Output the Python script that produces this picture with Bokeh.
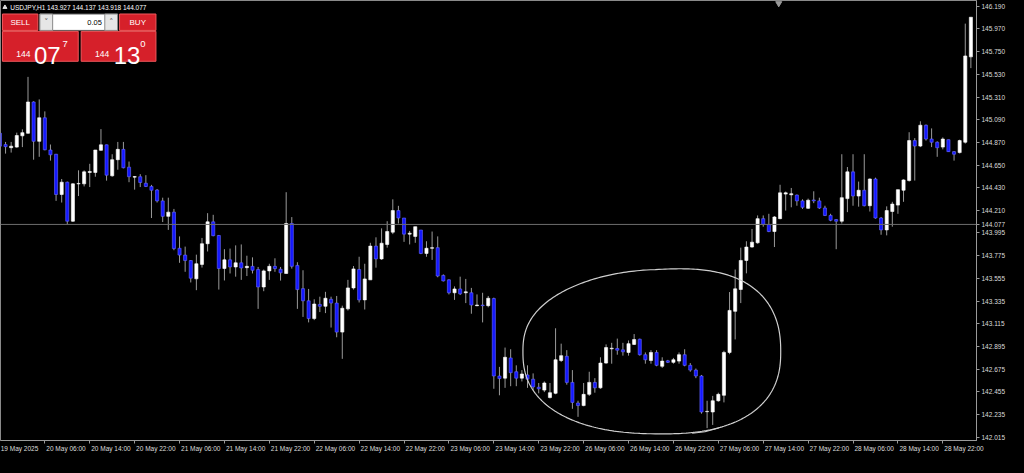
import numpy as np
from bokeh.plotting import figure
from bokeh.models import (Range1d, FixedTicker, LinearAxis, Span,
                          PrintfTickFormatter, GlobalInlineStyleSheet)
from bokeh.core.properties import value
from bokeh.embed import file_html
from bokeh.resources import INLINE

# ---------------- data ----------------
symbol = "USDJPY,H1"
header_ohlc = ["143.927", "144.137", "143.918", "144.077"]
bid_price = 144.077
lot_size = "0.05"
sell_quote = ["144", "07", "7"]
buy_quote = ["144", "13", "0"]

opens = [144.960, 144.850, 144.820, 144.826, 144.935, 144.960, 145.263, 144.882, 145.110, 144.798,
         144.757, 144.367, 144.486, 144.108, 144.470, 144.470, 144.580, 144.580, 144.795, 144.848,
         144.548, 144.704, 144.804, 144.632, 144.535, 144.539, 144.476, 144.445, 144.410, 144.305,
         144.155, 144.196, 143.846, 143.780, 143.727, 143.550, 143.690, 143.890, 144.102, 143.970,
         143.650, 143.734, 143.665, 143.705, 143.658, 143.671, 143.640, 143.471, 143.627, 143.671,
         143.643, 143.602, 144.086, 143.680, 143.455, 143.337, 143.165, 143.302, 143.284, 143.352,
         143.315, 143.034, 143.259, 143.462, 143.640, 143.346, 143.540, 143.867, 143.743, 143.883,
         144.002, 144.211, 144.139, 143.983, 143.961, 144.023, 143.796, 143.846, 143.852, 143.583,
         143.540, 143.415, 143.452, 143.415, 143.415, 143.290, 143.296, 143.290, 143.359, 142.609,
         142.588, 142.784, 142.650, 142.588, 142.619, 142.578, 142.500, 142.472, 142.400, 142.441,
         142.759, 142.800, 142.547, 142.347, 142.322, 142.431, 142.547, 142.494, 142.734, 142.872,
         142.875, 142.862, 142.837, 142.915, 142.965, 142.815, 142.759, 142.837, 142.703, 142.756,
         142.741, 142.753, 142.815, 142.712, 142.666, 142.609, 142.263, 142.260, 142.369, 142.422,
         142.837, 143.235, 143.447, 143.728, 143.858, 143.899, 144.133, 144.077, 144.008, 144.133,
         144.371, 144.364, 144.361, 144.305, 144.233, 144.314, 144.305, 144.236, 144.164, 144.124,
         144.108, 144.327, 144.586, 144.352, 144.408, 144.258, 144.517, 144.139, 144.024, 144.202,
         144.264, 144.408, 144.502, 144.889, 144.836, 145.038, 144.904, 144.873, 144.826, 144.898,
         144.782, 144.773, 144.873, 145.700]
highs = [144.970, 144.876, 144.876, 144.966, 144.998, 145.506, 145.270, 145.288, 145.172, 144.851,
         144.760, 144.517, 144.492, 144.476, 144.601, 144.600, 144.664, 144.798, 145.000, 144.850,
         144.757, 144.876, 144.876, 144.686, 144.545, 144.564, 144.554, 144.460, 144.420, 144.336,
         144.336, 144.227, 143.961, 143.862, 143.730, 143.784, 143.946, 144.186, 144.170, 143.975,
         143.837, 143.843, 143.874, 143.883, 143.774, 143.758, 143.665, 143.640, 143.696, 143.749,
         143.665, 144.389, 144.148, 143.711, 143.633, 143.452, 143.352, 143.377, 143.424, 143.377,
         143.384, 143.290, 143.540, 143.674, 143.764, 143.696, 143.899, 143.952, 144.039, 144.108,
         144.320, 144.257, 144.139, 144.014, 144.055, 144.023, 143.914, 144.008, 143.961, 143.593,
         143.546, 143.477, 143.571, 143.549, 143.462, 143.399, 143.415, 143.384, 143.368, 142.697,
         142.884, 142.868, 142.712, 142.666, 142.712, 142.634, 142.541, 142.556, 142.541, 143.071,
         142.922, 142.859, 142.666, 142.369, 142.541, 142.650, 142.588, 142.790, 142.915, 142.930,
         142.971, 142.930, 142.953, 143.015, 142.971, 142.837, 142.859, 142.859, 142.790, 142.765,
         142.784, 142.837, 142.868, 142.734, 142.681, 142.619, 142.369, 142.416, 142.447, 142.853,
         143.422, 143.640, 143.852, 143.914, 144.033, 144.164, 144.164, 144.180, 144.158, 144.461,
         144.395, 144.430, 144.367, 144.320, 144.327, 144.398, 144.336, 144.258, 144.180, 144.127,
         144.757, 144.633, 144.757, 144.492, 144.757, 144.523, 144.530, 144.149, 144.252, 144.296,
         144.414, 144.514, 144.970, 144.913, 145.076, 145.045, 145.007, 144.882, 144.920, 144.898,
         144.788, 144.898, 146.022, 146.084]
lows = [144.830, 144.763, 144.773, 144.820, 144.826, 144.955, 144.704, 144.732, 144.795, 144.695,
        144.305, 144.289, 144.077, 144.102, 144.352, 144.445, 144.439, 144.539, 144.790, 144.501,
        144.539, 144.607, 144.620, 144.486, 144.414, 144.439, 144.439, 144.139, 144.289, 144.100,
        144.024, 143.827, 143.705, 143.618, 143.515, 143.440, 143.659, 143.815, 143.962, 143.446,
        143.534, 143.602, 143.571, 143.540, 143.577, 143.602, 143.259, 143.430, 143.540, 143.618,
        143.533, 143.600, 143.649, 143.259, 143.181, 143.128, 143.150, 143.228, 143.218, 143.078,
        142.984, 142.775, 143.243, 143.446, 143.321, 143.253, 143.540, 143.658, 143.733, 143.852,
        143.983, 144.086, 143.908, 143.883, 143.899, 143.789, 143.764, 143.733, 143.565, 143.524,
        143.399, 143.346, 143.393, 143.315, 143.212, 143.284, 143.128, 143.274, 142.485, 142.422,
        142.494, 142.510, 142.510, 142.556, 142.494, 142.472, 142.441, 142.453, 142.391, 142.432,
        142.744, 142.525, 142.291, 142.213, 142.316, 142.416, 142.447, 142.485, 142.728, 142.728,
        142.815, 142.806, 142.806, 142.909, 142.806, 142.728, 142.728, 142.703, 142.687, 142.734,
        142.728, 142.728, 142.703, 142.650, 142.588, 142.244, 142.104, 142.135, 142.360, 142.353,
        142.820, 142.963, 143.315, 143.603, 143.852, 143.890, 144.055, 144.002, 143.858, 144.127,
        144.211, 144.243, 144.258, 144.227, 144.227, 144.283, 144.227, 144.158, 144.108, 143.837,
        144.086, 144.196, 144.258, 144.249, 144.252, 144.202, 144.133, 143.977, 143.971, 144.055,
        144.180, 144.296, 144.492, 144.502, 144.826, 144.889, 144.826, 144.732, 144.804, 144.779,
        144.695, 144.764, 144.860, 145.591]
closes = [144.835, 144.830, 144.835, 144.938, 144.966, 145.263, 144.882, 145.110, 144.800, 144.751,
          144.367, 144.486, 144.108, 144.470, 144.474, 144.586, 144.590, 144.798, 144.848, 144.554,
          144.704, 144.804, 144.626, 144.539, 144.540, 144.483, 144.445, 144.408, 144.305, 144.155,
          144.196, 143.843, 143.780, 143.727, 143.556, 143.696, 143.890, 144.102, 143.968, 143.650,
          143.734, 143.665, 143.705, 143.655, 143.671, 143.633, 143.471, 143.627, 143.671, 143.649,
          143.608, 144.086, 143.671, 143.446, 143.337, 143.165, 143.306, 143.284, 143.362, 143.315,
          143.034, 143.265, 143.462, 143.646, 143.346, 143.549, 143.867, 143.743, 143.895, 144.008,
          144.211, 144.139, 143.983, 143.992, 144.055, 143.796, 143.846, 143.852, 143.577, 143.530,
          143.415, 143.452, 143.405, 143.424, 143.296, 143.296, 143.290, 143.362, 142.609, 142.584,
          142.790, 142.641, 142.588, 142.628, 142.578, 142.503, 142.485, 142.541, 142.447, 142.766,
          142.806, 142.547, 142.353, 142.322, 142.431, 142.547, 142.494, 142.734, 142.884, 142.878,
          142.859, 142.843, 142.922, 142.962, 142.815, 142.766, 142.837, 142.712, 142.753, 142.741,
          142.766, 142.815, 142.712, 142.666, 142.609, 142.260, 142.266, 142.369, 142.431, 142.837,
          143.244, 143.453, 143.728, 143.858, 143.905, 144.133, 144.077, 144.008, 144.149, 144.383,
          144.383, 144.374, 144.305, 144.243, 144.311, 144.305, 144.236, 144.164, 144.117, 144.108,
          144.336, 144.586, 144.352, 144.408, 144.258, 144.517, 144.139, 144.024, 144.211, 144.274,
          144.414, 144.508, 144.889, 144.836, 145.038, 144.904, 144.873, 144.820, 144.904, 144.782,
          144.757, 144.889, 145.709, 146.084]

time_tick_bars = [0, 8, 16, 24, 32, 40, 48, 56, 64, 72, 80, 88, 96, 104, 112, 120, 128, 136, 144, 152, 160, 168]
time_tick_labels = ["19 May 2025", "20 May 06:00", "20 May 14:00", "20 May 22:00", "21 May 06:00",
                    "21 May 14:00", "21 May 22:00", "22 May 06:00", "22 May 14:00", "22 May 22:00",
                    "23 May 06:00", "23 May 14:00", "23 May 22:00", "26 May 06:00", "26 May 14:00",
                    "26 May 22:00", "27 May 06:00", "27 May 14:00", "27 May 22:00", "28 May 06:00",
                    "28 May 14:00", "28 May 22:00"]
price_ticks = [146.190, 145.970, 145.750, 145.530, 145.310, 145.090, 144.870, 144.650, 144.430,
               144.210, 144.077, 143.995, 143.775, 143.555, 143.335, 143.115, 142.895, 142.675,
               142.455, 142.235, 142.015]

# ---------------- layout ----------------
W, H = 1008, 457
AX_R, AX_B = 32, 17
FW, FH = W - AX_R, H - AX_B
X0, X1 = 0.1, 174.0
Y0, Y1 = 141.984, 146.246
REF_W, REF_H = 992.0, 456.0   # reference frame size in px (decoration positions are given in it)
FONT = "Liberation Sans"
LBL = "#dcdcdc"
GREY = "#9a9a9a"


def rx(px):
    return X0 + px / REF_W * (X1 - X0)


def ry(py):
    return Y1 - py / REF_H * (Y1 - Y0)


p = figure(width=W, height=H, x_range=Range1d(X0, X1), y_range=Range1d(Y0, Y1),
           output_backend="svg", toolbar_location=None,
           x_axis_location=None, y_axis_location=None,
           min_border_left=0, min_border_top=0,
           min_border_right=AX_R, min_border_bottom=AX_B)
p.background_fill_color = "black"
p.border_fill_color = "black"
p.outline_line_color = "#8a8a8a"
p.xgrid.visible = False
p.ygrid.visible = False
p.stylesheets = [GlobalInlineStyleSheet(css="html, body { background: #000000; }")]

# bottom time axis: label text starts just right of its tick, like MT4
px_per_bar = FW / (X1 - X0)
label_centers = []
for b, lab in zip(time_tick_bars, time_tick_labels):
    width_px = len(lab) * 3.28
    label_centers.append(round(b + (width_px / 2 + 1.5) / px_per_bar, 3))
xa = LinearAxis(ticker=FixedTicker(ticks=label_centers, minor_ticks=time_tick_bars))
xa.major_label_overrides = {c: lab for c, lab in zip(label_centers, time_tick_labels)}
xa.major_tick_line_color = None
xa.major_tick_out = 3
xa.major_tick_in = 0
xa.minor_tick_line_color = GREY
xa.minor_tick_out = 3
xa.minor_tick_in = 0
xa.axis_line_color = GREY
xa.major_label_standoff = 1
xa.major_label_text_color = LBL
xa.major_label_text_font = FONT
xa.major_label_text_font_size = "6.5px"
p.add_layout(xa, "below")

ya = LinearAxis(ticker=FixedTicker(ticks=price_ticks, minor_ticks=[]),
                formatter=PrintfTickFormatter(format="%.3f"))
ya.major_tick_line_color = GREY
ya.major_tick_out = 3
ya.major_tick_in = 0
ya.minor_tick_line_color = None
ya.axis_line_color = GREY
ya.major_label_standoff = 2
ya.major_label_text_color = LBL
ya.major_label_text_font = FONT
ya.major_label_text_font_size = "6.5px"
p.add_layout(ya, "right")

# bid line
p.add_layout(Span(location=bid_price, dimension="width", line_color="#6e6e6e", line_width=1))

# ---------------- candles ----------------
o = np.array(opens)
h = np.array(highs)
l = np.array(lows)
c = np.array(closes)
idx = np.arange(len(o))
bull = c >= o
bear = ~bull

p.segment(x0=idx, y0=l, x1=idx, y1=h, line_color=GREY, line_width=1)
p.vbar(x=idx[bull], width=0.56, bottom=o[bull], top=c[bull],
       fill_color="#ffffff", line_color="#ffffff", line_width=0.6)
p.vbar(x=idx[bear], width=0.56, bottom=c[bear], top=o[bear],
       fill_color="#1418ff", line_color="#6a6aff", line_width=0.6)

# ---------------- hand-drawn outline ----------------
t = np.linspace(0, 2 * np.pi, 360)
ncurv = 2.4
ecx, ecy, ea, eb = 662.0, 364.0, 131.0, 85.0
ct, st = np.cos(t), np.sin(t)
ex = ecx + ea * np.sign(ct) * np.abs(ct) ** (2 / ncurv)
ey = ecy + eb * np.sign(st) * np.abs(st) ** (2 / ncurv)
ey = ey + np.where(st < 0, 12.0 * ct * st, 4.0 * ct * st)
p.line(rx(ex), ry(ey), line_color="#cfcfcf", line_width=1.2)
p.line(rx(np.array([703.0, 716.0, 730.0])), ry(np.array([448.5, 447.0, 443.0])),
       line_color="#cfcfcf", line_width=1.1)

# chart-shift marker
p.scatter(x=[rx(791)], y=[ry(3)], marker="inverted_triangle", size=6,
          fill_color=GREY, line_color=GREY)

# ---------------- header + one-click trading panel ----------------
p.scatter(x=[rx(4.5)], y=[ry(7)], marker="triangle", size=4, fill_color="#e0e0e0", line_color="#e0e0e0")
p.text(x=[rx(10)], y=[ry(7)], text=[symbol + " " + " ".join(header_ohlc)],
       text_font=value(FONT), text_font_size="6.5px", text_color="#ffffff",
       text_baseline="middle", text_align="left")


def box(l_, t_, r_, b_, fill, line, lw=1):
    p.quad(left=[rx(l_)], right=[rx(r_)], top=[ry(t_)], bottom=[ry(b_)],
           fill_color=fill, line_color=line, line_width=lw)


RED = "#d6202a"
RED_L = "#f0585c"
box(2, 14, 38, 31, RED, RED_L)
box(121, 14, 158, 31, RED, RED_L)
box(40, 14, 119, 31, "#ffffff", "#5a5a5a")
box(40, 14, 53, 31, "#e6e6e6", "#8a8a8a")
box(106, 14, 119, 31, "#e6e6e6", "#8a8a8a")
box(2, 32, 79, 63, RED, RED_L)
box(82, 32, 158, 63, RED, RED_L)


def txt(x, y, s, size, color="#ffffff", align="left", baseline="alphabetic", font=FONT):
    p.text(x=[rx(x)], y=[ry(y)], text=[s], text_font=value(font), text_font_size=size,
           text_color=color, text_align=align, text_baseline=baseline)


txt(20, 23, "SELL", "8px", align="center", baseline="middle")
txt(139.5, 23, "BUY", "8px", align="center", baseline="middle")
txt(103, 23, lot_size, "7.5px", color="#000000", align="right", baseline="middle")
txt(46.5, 23, "˅", "8px", color="#606060", align="center", baseline="middle", font="DejaVu Sans")
txt(112.5, 23, "˄", "8px", color="#606060", align="center", baseline="middle", font="DejaVu Sans")

txt(16, 55, sell_quote[0], "8.5px")
txt(34, 57, sell_quote[1], "24px")
txt(63, 45, sell_quote[2], "9.5px")
txt(96, 55, buy_quote[0], "8.5px")
txt(115, 57, buy_quote[1], "24px")
txt(142, 45, buy_quote[2], "9.5px")

open("out.html", "w").write(file_html(p, INLINE))
